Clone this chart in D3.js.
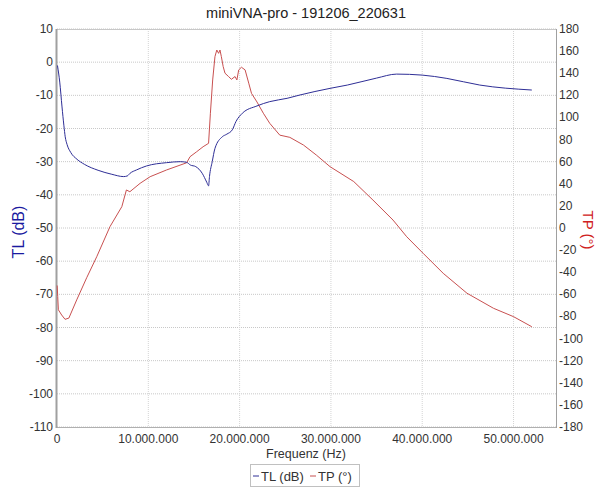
<!DOCTYPE html>
<html>
<head>
<meta charset="utf-8">
<script src="https://cdn.jsdelivr.net/npm/d3@7"></script>
<style>
  body { margin: 0; background: #fff; }
  text { font-family: "Liberation Sans", Arial, sans-serif; }
</style>
</head>
<body>
<div id="chart"></div>
<script>
// sweep frequencies in MHz
const tlFreq = [0.05, 0.3, 0.55, 0.75, 0.9, 1.1, 1.5, 2.2, 3.0, 4.5, 6.0, 7.3, 7.7, 8.0, 8.7, 9.8, 12.0, 13.5, 14.2, 14.6, 15.2, 15.9, 16.4, 16.6, 16.7, 17.0, 17.3, 18.1, 18.6, 19.2, 19.6, 20.3, 21.9, 23.3, 25.2, 26.6, 29.9, 31.8, 35.0, 37.2, 40.0, 42.7, 46.3, 52.0];
const tlValues = [-1.0, -6, -13.5, -19, -22.5, -24.8, -27.2, -29.3, -30.8, -32.6, -33.8, -34.5, -34.3, -33.5, -32.5, -31.3, -30.3, -30.0, -30.2, -31, -31.5, -33.5, -36.2, -37.3, -34.5, -30, -26, -22.5, -21.7, -20.4, -17.9, -15.4, -13.2, -11.9, -10.9, -9.9, -7.9, -6.9, -4.8, -3.6, -3.9, -4.9, -6.9, -8.4];

const tpFreq = [0.02, 0.08, 0.15, 0.51, 0.88, 1.3, 2.16, 3.25, 4.35, 5.8, 7.1, 7.6, 7.98, 9.1, 10.2, 12.0, 14.2, 14.57, 15.3, 16.0, 16.6, 16.8, 17.05, 17.3, 17.5, 17.7, 17.85, 18.0, 18.2, 18.4, 18.8, 19.1, 19.5, 19.7, 19.9, 20.2, 20.6, 21.0, 21.3, 21.9, 22.6, 23.3, 24.4, 25.5, 27.0, 28.4, 29.9, 32.5, 34.6, 36.8, 38.3, 40.1, 42.3, 44.9, 47.8, 50.0, 52.0];
const tpValues = [-52, -62, -74, -78.7, -82.6, -81.5, -65, -45, -26, 1.2, 19.3, 34.4, 32.8, 40.4, 46.4, 52.5, 59, 64.5, 69, 73.5, 76.6, 103.8, 133.9, 155, 161, 158, 161, 155, 146, 140, 136.9, 134.5, 137, 133.9, 143, 145.4, 143, 131, 121.8, 114, 103.8, 94.7, 84, 82, 75, 66, 55.5, 42, 25.3, 7.2, -7.9, -22.9, -41, -59, -72.6, -80.2, -89.3];

const xTicks = [0, 10e6, 20e6, 30e6, 40e6, 50e6];
const leftTicks = d3.range(10, -111, -10);
const rightTicks = d3.range(180, -181, -20);

const W = 597, H = 489;
const plot = { left: 57, right: 556, top: 29, bottom: 427 };
const blue = "#2e2e96", red = "#c85050";

const svg = d3.select("#chart").append("svg")
    .attr("width", W).attr("height", H);

const x = d3.scaleLinear().domain([0, 54.65e6]).range([plot.left, plot.right]);
const yL = d3.scaleLinear().domain([-110, 10]).range([plot.bottom, plot.top]);
const yR = d3.scaleLinear().domain([-180, 180]).range([plot.bottom, plot.top]);

// grid
svg.append("g").selectAll("line").data(leftTicks).enter().append("line")
    .attr("x1", plot.left).attr("x2", plot.right)
    .attr("y1", d => yL(d)).attr("y2", d => yL(d))
    .attr("stroke", "#c8c8c8").attr("stroke-dasharray", "1,1");
svg.append("g").selectAll("line").data(xTicks.slice(1)).enter().append("line")
    .attr("x1", d => x(d)).attr("x2", d => x(d))
    .attr("y1", plot.top).attr("y2", plot.bottom)
    .attr("stroke", "#d4d4d4").attr("stroke-dasharray", "1,1");

// frame
svg.append("line").attr("x1", plot.left).attr("x2", plot.right)
    .attr("y1", plot.top + 0.5).attr("y2", plot.top + 0.5).attr("stroke", "#c8c8c8");
svg.append("line").attr("x1", plot.left).attr("x2", plot.right)
    .attr("y1", plot.bottom + 0.5).attr("y2", plot.bottom + 0.5).attr("stroke", "#b0b0b0");
svg.append("line").attr("x1", plot.left - 0.5).attr("x2", plot.left - 0.5)
    .attr("y1", plot.top).attr("y2", plot.bottom + 1).attr("stroke", "#a0a0a0").attr("stroke-width", 2);
svg.append("line").attr("x1", plot.right + 0.5).attr("x2", plot.right + 0.5)
    .attr("y1", plot.top).attr("y2", plot.bottom + 1).attr("stroke", "#a0a0a0");

// tick labels
const fmt = d => d3.format(",")(d).replace(/,/g, ".");
svg.append("g").selectAll("text").data(leftTicks).enter().append("text")
    .attr("x", plot.left - 4).attr("y", d => yL(d) + 4)
    .attr("text-anchor", "end").attr("font-size", 12).attr("fill", "#333")
    .text(d => d);
svg.append("g").selectAll("text").data(rightTicks).enter().append("text")
    .attr("x", plot.right + 3).attr("y", d => yR(d) + 4)
    .attr("text-anchor", "start").attr("font-size", 12).attr("fill", "#333")
    .text(d => d);
svg.append("g").selectAll("text").data(xTicks).enter().append("text")
    .attr("x", d => x(d)).attr("y", plot.bottom + 16)
    .attr("text-anchor", "middle").attr("font-size", 12).attr("fill", "#333")
    .text(d => fmt(d));

// titles
svg.append("text").attr("x", 306).attr("y", 18).attr("text-anchor", "middle")
    .attr("font-size", 14.5).attr("fill", "#222").text("miniVNA-pro - 191206_220631");
svg.append("text").attr("x", 306).attr("y", 458).attr("text-anchor", "middle")
    .attr("font-size", 12.5).attr("fill", "#333").text("Frequenz (Hz)");
svg.append("text").attr("transform", "translate(24,232) rotate(-90)")
    .attr("text-anchor", "middle").attr("font-size", 16).attr("fill", "#1a1aa0").text("TL (dB)");
svg.append("text").attr("transform", "translate(583,230) rotate(90)")
    .attr("text-anchor", "middle").attr("font-size", 15).attr("fill", "#d02020").text("TP (°)");

// curves
const tl = tlFreq.map((f, i) => [f * 1e6, tlValues[i]]);
const tp = tpFreq.map((f, i) => [f * 1e6, tpValues[i]]);
svg.append("path").datum(tp)
    .attr("d", d3.line().x(d => x(d[0])).y(d => yR(d[1])))
    .attr("fill", "none").attr("stroke", red).attr("stroke-width", 1);
svg.append("path").datum(tl)
    .attr("d", d3.line().curve(d3.curveMonotoneX).x(d => x(d[0])).y(d => yL(d[1])))
    .attr("fill", "none").attr("stroke", blue).attr("stroke-width", 1);

// legend
const lg = svg.append("g").attr("transform", "translate(250,464)");
lg.append("rect").attr("x", 0.5).attr("y", 0.5).attr("width", 109).attr("height", 22)
    .attr("fill", "#fff").attr("stroke", "#c0c0c0");
[["TL (dB)", blue, 3], ["TP (°)", red, 60]].forEach(([t, c, ox]) => {
    lg.append("line").attr("x1", ox).attr("x2", ox + 6).attr("y1", 12).attr("y2", 12)
        .attr("stroke", c).attr("stroke-width", 1);
    lg.append("text").attr("x", ox + 8).attr("y", 17).attr("font-size", 13)
        .attr("fill", "#333").text(t);
});
</script>
</body>
</html>
